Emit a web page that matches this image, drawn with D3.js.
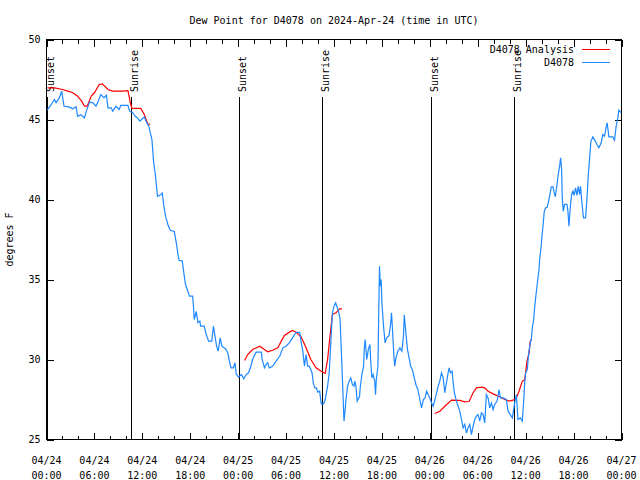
<!DOCTYPE html>
<html>
<head>
<meta charset="utf-8">
<script src="https://cdn.jsdelivr.net/npm/d3@7"></script>
<style>
  html, body { margin: 0; padding: 0; background: #fff; }
  svg { display: block; }
  text { font-family: "DejaVu Sans Mono", "Liberation Mono", monospace; font-size: 10px; fill: #000; }
</style>
</head>
<body>
<svg id="chart" width="640" height="480"></svg>
<script>
// ---------------- DATA ----------------
const titleText = "Dew Point for D4078 on 2024-Apr-24 (time in UTC)";
const yLabelText = "degrees F";
const startISO = "2024-04-24T00:00:00Z";
const endISO = "2024-04-27T00:00:00Z";

// Observations (hours since 2024-04-24 00:00 UTC, deg F)
const obsHours = [
  0.1,0.6,1.0,1.2,1.6,1.9,2.2,2.9,3.3,3.7,3.9,4.3,4.75,4.96,5.4,5.8,6.2,6.6,6.8,7.2,7.5,7.7,8.1,8.3,8.7,9.1,9.3,10.2,10.4,10.8,
  11.1,11.4,11.7,11.9,12.25,12.46,12.8,13.0,13.2,13.3,13.4,13.6,13.75,13.9,14.3,14.5,14.7,14.9,15.2,15.5,16.0,16.25,16.5,16.6,17.0,17.2,17.4,17.7,17.9,18.3,
  18.4,18.5,18.75,18.96,19.2,19.3,19.75,20.0,20.3,20.7,20.9,21.1,21.3,21.5,21.75,21.96,22.4,22.7,22.9,23.1,23.4,23.6,23.75,24.04,24.4,24.7,25.0,25.3,25.6,25.8,
  26.25,26.9,27.0,27.3,27.5,27.7,27.9,28.3,28.75,29.2,29.6,30.0,30.4,30.8,31.25,31.7,31.9,32.1,32.3,32.5,32.7,32.9,33.25,33.4,33.6,33.8,33.96,34.2,34.4,34.7,
  34.9,35.2,35.4,35.6,35.8,36.0,36.2,36.5,36.75,36.96,37.15,37.25,37.4,37.5,37.7,37.9,38.1,38.3,38.5,38.6,38.75,38.9,39.2,39.3,39.5,39.7,39.8,39.9,40.1,40.3,
  40.5,40.6,40.75,40.9,41.1,41.2,41.3,41.5,41.6,41.7,41.8,41.9,42.0,42.2,42.4,42.6,42.9,43.1,43.2,43.3,43.5,43.6,43.75,44.0,44.25,44.5,44.7,44.8,45.0,45.2,
  45.4,45.6,45.8,46.0,46.25,46.5,46.75,46.96,47.2,47.4,47.6,47.8,48.0,48.2,48.42,48.75,49.04,49.25,49.46,49.67,49.875,50.08,50.29,50.42,50.58,50.79,50.92,51.08,51.33,51.54,
  51.75,51.96,52.17,52.375,52.58,52.79,53.0,53.21,53.42,53.625,53.83,54.04,54.25,54.46,54.67,54.875,55.08,55.29,55.5,55.71,55.92,56.125,56.42,56.67,56.83,57.17,57.58,57.79,58.08,58.33,
  58.625,58.83,59.04,59.33,59.58,59.75,59.875,60.0,60.21,60.29,60.42,60.58,60.71,60.83,61.0,61.125,61.25,61.42,61.54,61.67,61.75,61.92,62.04,62.17,62.33,62.5,62.67,62.83,63.0,63.21,
  63.42,63.58,63.71,63.92,64.08,64.25,64.375,64.5,64.58,64.71,64.875,65.17,65.29,65.42,65.58,65.75,65.92,66.08,66.25,66.42,66.58,66.75,66.875,67.0,67.17,67.25,67.5,67.67,67.83,68.0,
  68.17,68.42,68.71,68.92,69.17,69.46,69.67,69.875,70.08,70.21,70.42,70.92,71.125,71.33,71.54,71.67,71.96
];
const obsValues = [
  45.6,45.94,46.25,46.04,46.35,46.77,45.83,45.77,45.67,45.8,45.2,45.3,45.1,45.48,46.1,46.04,45.83,46.3,46.56,46.35,46.52,45.73,45.73,45.52,45.83,45.63,45.88,45.88,45.52,45.42,
  45.2,45.1,44.9,45.0,45.15,44.9,44.58,44.17,43.75,43.1,42.4,41.67,40.94,40.2,40.3,40.4,39.58,38.96,38.44,38.08,38.0,37.3,36.46,36.2,36.15,35.4,34.7,34.27,33.96,33.96,
  33.33,32.5,33.0,32.3,32.4,32.08,32.08,31.56,31.15,31.15,32.08,31.46,30.83,30.52,31.35,30.83,30.67,30.42,29.9,29.48,29.48,29.8,29.1,28.9,29.06,28.79,29.06,29.17,29.58,30.0,
  30.46,30.46,30.0,29.48,29.69,29.8,29.48,29.58,29.9,30.2,30.73,30.83,31.04,31.35,31.7,31.7,31.04,30.52,29.58,30.3,29.58,29.58,29.17,28.54,28.23,28.23,27.96,28.02,27.23,27.23,
  27.5,28.33,29.17,31.04,32.92,33.33,33.54,33.13,32.6,30.0,27.5,26.15,26.9,27.5,28.33,28.65,28.85,28.44,28.33,28.65,28.33,27.4,27.7,28.33,29.06,29.58,30.73,31.25,30.0,30.63,
  30.94,29.9,28.85,29.06,28.65,27.8,28.75,29.58,32.92,35.83,34.58,35.0,33.54,32.08,31.04,31.35,31.5,32.3,32.92,32.08,30.2,29.58,30.1,30.52,30.73,30.52,31.46,32.8,31.67,30.63,
  30.1,29.58,29.38,28.96,28.44,28.13,27.5,26.98,27.5,27.6,28.02,27.8,27.6,27.3,27.08,27.71,28.33,28.65,29.17,28.85,27.92,28.54,29.17,29.48,29.17,29.27,28.54,27.92,27.4,27.08,
  26.77,26.25,25.73,25.94,25.4,25.73,25.94,25.3,25.83,26.25,26.46,26.56,26.15,26.67,26.56,26.04,27.81,27.6,26.98,27.29,26.875,27.19,27.4,28.125,27.6,27.6,27.5,26.77,26.56,26.35,
  27.29,27.81,26.25,26.35,26.15,27.4,28.54,29.17,29.375,29.9,30.52,31.04,31.25,31.98,32.5,33.23,33.85,34.58,35.1,35.625,36.25,36.98,37.71,38.33,39.27,39.48,39.5,39.79,40.21,40.79,
  40.79,40.42,40.17,40.94,41.56,42.08,42.6,41.875,40.1,39.27,39.69,39.69,39.27,38.33,39.48,40.31,40.52,40.25,40.73,40.25,40.83,40.31,40.83,40.0,39.17,38.85,38.85,40.0,41.46,42.5,
  43.65,43.92,43.65,43.44,43.23,43.54,44.06,43.96,44.54,44.79,43.92,43.92,43.71,44.58,45.1,45.58,45.42
];

// Analysis (hours, deg F); null marks a gap between runs
const anaHours = [
  0.17,1.0,2.0,2.67,3.3,3.9,4.4,4.75,5.1,5.6,6.0,6.6,7.0,7.7,8.3,9.5,10.2,10.5,10.7,11.8,12.25,12.67,13.0,
  13.5,
  24.8,25.2,25.8,26.7,27.7,28.3,28.96,29.4,29.8,30.4,30.8,31.25,31.9,32.5,33.1,33.75,34.4,34.9,35.2,35.5,35.8,36.25,36.7,37.0,
  37.5,
  48.625,49.25,49.875,50.71,51.75,52.375,52.92,53.42,53.83,54.46,54.875,55.29,55.92,56.75,57.375,57.92,58.42,58.83,59.17,59.58,59.875,60.17,60.42,60.58,60.71
];
const anaValues = [
  46.98,46.98,46.875,46.77,46.67,46.46,46.15,45.83,45.83,46.46,46.67,47.19,47.23,46.875,46.77,46.77,46.8,46.04,45.69,45.69,45.31,44.73,44.69,
  null,
  29.94,30.31,30.625,30.83,30.48,30.58,30.73,31.15,31.5,31.71,31.81,31.7,31.4,30.73,30.0,29.48,29.27,29.13,30.0,31.46,32.81,32.92,33.17,33.17,
  null,
  26.625,26.77,27.08,27.46,27.44,27.35,27.375,27.92,28.23,28.27,28.23,28.02,27.85,27.67,27.5,27.4,27.46,27.6,28.02,28.65,28.71,29.9,30.42,31.15,31.25
];

// Sun events (hours since start)
const sunLabels = ["Sunset","Sunrise","Sunset","Sunrise","Sunset","Sunrise"];
const sunHours = [0.1, 10.625, 24.125, 34.54, 48.2, 58.54];

// Axis tick labels
const yTicks = [25, 30, 35, 40, 45, 50];
const xTickDays  = ["04/24","04/24","04/24","04/24","04/25","04/25","04/25","04/25","04/26","04/26","04/26","04/26","04/27"];
const xTickTimes = ["00:00","06:00","12:00","18:00","00:00","06:00","12:00","18:00","00:00","06:00","12:00","18:00","00:00"];

const seriesNames = ["D4078 Analysis", "D4078"];
const seriesColors = ["#ff0000", "#1e88ff"];

// ---------------- DRAW ----------------
const svg = d3.select("#chart");
const L = 46.5, R = 621.5, T = 39.5, B = 439.5;
const t0 = new Date(startISO), t1 = new Date(endISO);
const hr = h => new Date(t0.getTime() + h * 3600e3);

const x = d3.scaleUtc().domain([t0, t1]).range([L, R]);
const y = d3.scaleLinear().domain([25, 50]).range([B, T]);

// title
svg.append("text").attr("x", (L + R) / 2).attr("y", 23.5)
  .attr("text-anchor", "middle").text(titleText);

// y label
svg.append("text").attr("transform", `translate(13,${(T + B) / 2}) rotate(-90)`)
  .attr("text-anchor", "middle").text(yLabelText);

// axes
const minorTicks = d3.utcHour.every(2).range(t0, d3.utcHour.offset(t1, 1));
const majorTicks = d3.utcHour.every(6).range(t0, d3.utcHour.offset(t1, 1));

function styleAxis(g) {
  g.select(".domain").remove();
  g.selectAll("line").attr("stroke", "#000").attr("shape-rendering", "crispEdges");
  g.selectAll("text").remove();
}
svg.append("g").attr("transform", `translate(0,${B})`)
  .call(d3.axisBottom(x).tickValues(minorTicks).tickSizeInner(-4).tickSizeOuter(0)).call(styleAxis);
svg.append("g").attr("transform", `translate(0,${B})`)
  .call(d3.axisBottom(x).tickValues(majorTicks).tickSizeInner(-7).tickSizeOuter(0)).call(styleAxis);
svg.append("g").attr("transform", `translate(0,${T})`)
  .call(d3.axisTop(x).tickValues(minorTicks).tickSizeInner(-4).tickSizeOuter(0)).call(styleAxis);
svg.append("g").attr("transform", `translate(0,${T})`)
  .call(d3.axisTop(x).tickValues(majorTicks).tickSizeInner(-7).tickSizeOuter(0)).call(styleAxis);

const yAxisL = svg.append("g").attr("transform", `translate(${L},0)`)
  .call(d3.axisLeft(y).tickValues(yTicks).tickSizeInner(-7).tickSizeOuter(0).tickPadding(6).tickFormat(d3.format("d")));
yAxisL.select(".domain").remove();
yAxisL.selectAll("line").attr("stroke", "#000").attr("shape-rendering", "crispEdges");
yAxisL.selectAll("text").style("font-family", "DejaVu Sans Mono, monospace").style("font-size", "10px");
svg.append("g").attr("transform", `translate(${R},0)`)
  .call(d3.axisRight(y).tickValues(yTicks).tickSizeInner(-7).tickSizeOuter(0)).call(styleAxis);

// x tick labels (two lines)
const xl = svg.append("g");
majorTicks.forEach((d, i) => {
  const t = xl.append("text").attr("text-anchor", "middle");
  t.append("tspan").attr("x", x(d)).attr("y", 464).text(xTickDays[i]);
  t.append("tspan").attr("x", x(d)).attr("y", 479).text(xTickTimes[i]);
});

// frame
svg.append("rect").attr("x", L).attr("y", T).attr("width", R - L).attr("height", B - T)
  .attr("fill", "none").attr("stroke", "#000").attr("shape-rendering", "crispEdges");

// sun lines
sunHours.forEach((h, i) => {
  const sx = Math.round(x(hr(h))) + 0.5;
  svg.append("line").attr("x1", sx).attr("x2", sx).attr("y1", 97).attr("y2", B)
    .attr("stroke", "#000").attr("shape-rendering", "crispEdges");
  svg.append("text").attr("transform", `translate(${sx + 6},92) rotate(-90)`)
    .attr("text-anchor", "start").text(sunLabels[i]);
});

// series
const line = d3.line().defined(d => d[1] != null).x(d => x(hr(d[0]))).y(d => y(d[1]));
const plot = svg.append("g");
plot.append("path").datum(anaHours.map((h, i) => [h, anaValues[i]]))
  .attr("d", line).attr("fill", "none").attr("stroke", seriesColors[0]).attr("stroke-width", 1.2);
plot.append("path").datum(obsHours.map((h, i) => [h, obsValues[i]]))
  .attr("d", line).attr("fill", "none").attr("stroke", seriesColors[1]).attr("stroke-width", 1.2);

// legend
const lg = svg.append("g");
seriesNames.forEach((n, i) => {
  const ly = 49 + i * 13;
  lg.append("text").attr("x", 574).attr("y", ly + 3.5).attr("text-anchor", "end").text(n);
  lg.append("line").attr("x1", 582).attr("x2", 610).attr("y1", ly + 0.5).attr("y2", ly + 0.5)
    .attr("stroke", seriesColors[i]).attr("stroke-width", 1).attr("shape-rendering", "crispEdges");
});
</script>
</body>
</html>
